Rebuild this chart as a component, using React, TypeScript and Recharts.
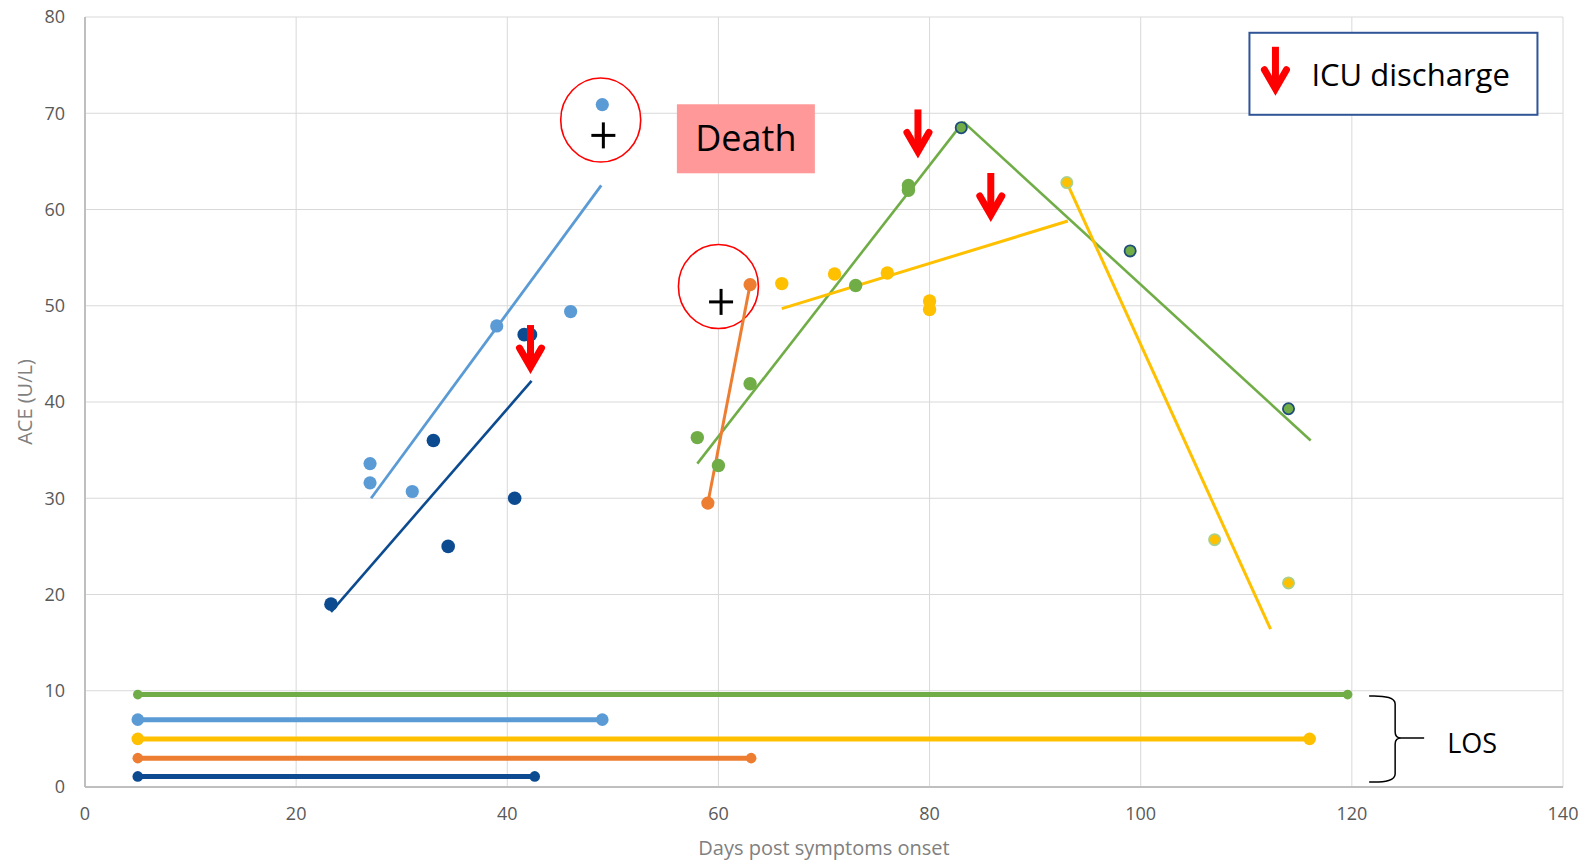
import { ScatterChart, Scatter, XAxis, YAxis, CartesianGrid, ReferenceDot } from 'recharts';

const FONT = "'Open Sans', sans-serif";

// axis ticks
const xTicks = [0, 20, 40, 60, 80, 100, 120, 140];
const yTicks = [0, 10, 20, 30, 40, 50, 60, 70, 80];

// measured ACE values per patient
const lightBluePts = [
    { x: 27, y: 33.6 }, { x: 27, y: 31.6 }, { x: 31, y: 30.7 },
    { x: 39, y: 47.9 }, { x: 46, y: 49.4 }, { x: 49, y: 70.9 },
];
const darkBluePts = [
    { x: 23.3, y: 19 }, { x: 33, y: 36 }, { x: 34.4, y: 25 },
    { x: 40.7, y: 30 }, { x: 41.6, y: 47 }, { x: 42.2, y: 47 },
];
const orangePts = [{ x: 59, y: 29.5 }, { x: 63, y: 52.2 }];
const greenPts = [
    { x: 58, y: 36.3 }, { x: 60, y: 33.4 }, { x: 63, y: 41.9 },
    { x: 73, y: 52.1 }, { x: 78, y: 62.5 }, { x: 78, y: 62 },
];
const greenLatePts = [{ x: 83, y: 68.5 }, { x: 99, y: 55.7 }, { x: 114, y: 39.3 }];
const yellowPts = [
    { x: 66, y: 52.3 }, { x: 71, y: 53.3 }, { x: 76, y: 53.4 },
    { x: 80, y: 50.5 }, { x: 80, y: 49.6 },
];
const yellowLatePts = [{ x: 93, y: 62.8 }, { x: 107, y: 25.7 }, { x: 114, y: 21.2 }];

// trend lines (end points)
const lightBlueTrend = [{ x: 27.1, y: 30 }, { x: 48.9, y: 62.5 }];
const darkBlueTrend = [{ x: 23.3, y: 18.2 }, { x: 42.3, y: 42.2 }];
const greenTrendUp = [{ x: 58, y: 33.6 }, { x: 83.2, y: 69.1 }];
const greenTrendDown = [{ x: 83.2, y: 69.1 }, { x: 116.1, y: 36 }];
const yellowTrendUp = [{ x: 66, y: 49.7 }, { x: 93.1, y: 58.8 }];
const yellowTrendDown = [{ x: 93, y: 62.8 }, { x: 112.3, y: 16.4 }];

// length of stay bars
const losGreen = [{ x: 5, y: 9.6 }, { x: 119.6, y: 9.6 }];
const losLightBlue = [{ x: 5, y: 7 }, { x: 49, y: 7 }];
const losYellow = [{ x: 5, y: 5 }, { x: 116, y: 5 }];
const losOrange = [{ x: 5, y: 3 }, { x: 63.1, y: 3 }];
const losDarkBlue = [{ x: 5, y: 1.1 }, { x: 42.6, y: 1.1 }];

// annotations
const icuArrows = [{ x: 42.2, y: 42.8 }, { x: 78.9, y: 65.2 }, { x: 85.8, y: 58.6 }];
const deathCircles = [{ x: 48.85, y: 69.3 }, { x: 60, y: 52 }];
const deathCrosses = [{ x: 49.1, y: 67.7 }, { x: 60.25, y: 50.4 }];

const C = {
    lightBlue: '#5B9BD5',
    darkBlue: '#0D4B91',
    orange: '#ED7D31',
    green: '#70AD47',
    yellow: '#FFC000',
    navy: '#1F4E79',
    paleGreen: '#A9D18E',
};

const dot = (fill: string, r: number, stroke?: string) => (p: any) => (
    <circle cx={p.cx} cy={p.cy} r={r} fill={fill} stroke={stroke ?? 'none'} strokeWidth={stroke ? 1.8 : 0} />
);
const noDot = () => <g />;

function arrowPath(cx: number, cy: number) {
    return (
        <g>
            <line x1={cx} y1={cy - 50} x2={cx} y2={cy - 10} stroke="#FF0000" strokeWidth={7} />
            <polyline points={`${cx - 11},${cy - 27} ${cx},${cy - 8} ${cx + 11},${cy - 27}`} fill="none"
                stroke="#FF0000" strokeWidth={7} strokeLinecap="round" strokeLinejoin="miter" />
        </g>
    );
}

const Arrow = (p: any) => arrowPath(p.cx, p.cy);

const Ring = (p: any) => (
    <ellipse cx={p.cx} cy={p.cy} rx={40} ry={42} fill="#fff" stroke="#FF0000" strokeWidth={1.6} />
);

const Cross = (p: any) => (
    <g stroke="#000" strokeWidth={3}>
        <line x1={p.cx - 12} y1={p.cy} x2={p.cx + 12} y2={p.cy} />
        <line x1={p.cx} y1={p.cy - 13} x2={p.cx} y2={p.cy + 13} />
    </g>
);

const DeathBox = (p: any) => (
    <g>
        <rect x={p.cx - 69} y={p.cy - 34} width={138} height={69} fill="#FF9999" />
        <text x={p.cx} y={p.cy + 13} textAnchor="middle" fontSize={36} fontFamily={FONT} fill="#000">Death</text>
    </g>
);

const IcuLegend = (p: any) => (
    <g>
        <rect x={p.cx - 144} y={p.cy - 41} width={288} height={82} fill="#fff" stroke="#2F5597" strokeWidth={2} />
        {arrowPath(p.cx - 118, p.cy + 23)}
        <text x={p.cx - 82} y={p.cy + 12} fontSize={31} fontFamily={FONT} fill="#000">ICU discharge</text>
    </g>
);

const LosBrace = (p: any) => (
    <g>
        <path d={`M${p.cx - 26},${p.cy - 42} Q${p.cx},${p.cy - 43} ${p.cx},${p.cy - 34} L${p.cx},${p.cy - 6} Q${p.cx},${p.cy} ${p.cx + 6},${p.cy} L${p.cx + 29},${p.cy} M${p.cx + 6},${p.cy} Q${p.cx},${p.cy} ${p.cx},${p.cy + 6} L${p.cx},${p.cy + 36} Q${p.cx},${p.cy + 45} ${p.cx - 26},${p.cy + 44}`}
            fill="none" stroke="#000" strokeWidth={1.5} />
        <text x={p.cx + 52} y={p.cy + 15} fontSize={27} fontFamily={FONT} fill="#000">LOS</text>
    </g>
);

export default function App() {
    return (
        <div style={{ position: 'absolute', left: 0, top: 0, width: 1584, height: 862, background: '#fff' }}>
            <ScatterChart width={1584} height={862} margin={{ top: 17, right: 21, bottom: 0, left: 0 }}>
                <CartesianGrid stroke="#D9D9D9" strokeWidth={1} />
                <XAxis type="number" dataKey="x" domain={[0, 140]} ticks={xTicks} height={75}
                    tickSize={0} tickMargin={20} axisLine={{ stroke: '#BFBFBF', strokeWidth: 2 }}
                    tick={{ fill: '#595959', fontSize: 18, fontFamily: FONT }}
                    label={{ value: 'Days post symptoms onset', position: 'insideBottom', offset: 7, fill: '#808080', fontSize: 20, fontFamily: FONT }} />
                <YAxis type="number" dataKey="y" domain={[0, 80]} ticks={yTicks} width={85}
                    tickSize={0} tickMargin={20} axisLine={{ stroke: '#BFBFBF', strokeWidth: 2 }}
                    tick={{ fill: '#595959', fontSize: 18, fontFamily: FONT }}
                    label={{ value: 'ACE (U/L)', angle: -90, position: 'insideLeft', offset: 25, fill: '#808080', fontSize: 20, fontFamily: FONT, style: { textAnchor: 'middle' } }} />

                {deathCircles.map((c, i) => (
                    <ReferenceDot key={'ring' + i} x={c.x} y={c.y} shape={Ring} />
                ))}
                <ReferenceDot x={62.6} y={67.4} shape={DeathBox} />

                {/* length of stay */}
                <Scatter data={losGreen} fill={C.green} line={{ stroke: C.green, strokeWidth: 5 }} shape={dot(C.green, 4.8)} isAnimationActive={false} />
                <Scatter data={losLightBlue} fill={C.lightBlue} line={{ stroke: C.lightBlue, strokeWidth: 5 }} shape={dot(C.lightBlue, 6.3)} isAnimationActive={false} />
                <Scatter data={losYellow} fill={C.yellow} line={{ stroke: C.yellow, strokeWidth: 5 }} shape={dot(C.yellow, 6.3)} isAnimationActive={false} />
                <Scatter data={losOrange} fill={C.orange} line={{ stroke: C.orange, strokeWidth: 5 }} shape={dot(C.orange, 5.3)} isAnimationActive={false} />
                <Scatter data={losDarkBlue} fill={C.darkBlue} line={{ stroke: C.darkBlue, strokeWidth: 5 }} shape={dot(C.darkBlue, 5.3)} isAnimationActive={false} />

                {/* trend lines */}
                <Scatter data={lightBlueTrend} fill={C.lightBlue} line={{ stroke: C.lightBlue, strokeWidth: 2.8 }} shape={noDot} isAnimationActive={false} />
                <Scatter data={darkBlueTrend} fill={C.darkBlue} line={{ stroke: C.darkBlue, strokeWidth: 2.6 }} shape={noDot} isAnimationActive={false} />
                <Scatter data={greenTrendUp} fill={C.green} line={{ stroke: C.green, strokeWidth: 2.6 }} shape={noDot} isAnimationActive={false} />
                <Scatter data={greenTrendDown} fill={C.green} line={{ stroke: C.green, strokeWidth: 2.6 }} shape={noDot} isAnimationActive={false} />
                <Scatter data={yellowTrendUp} fill={C.yellow} line={{ stroke: C.yellow, strokeWidth: 3 }} shape={noDot} isAnimationActive={false} />
                <Scatter data={yellowTrendDown} fill={C.yellow} line={{ stroke: C.yellow, strokeWidth: 3 }} shape={noDot} isAnimationActive={false} />

                {/* measurements */}
                <Scatter data={lightBluePts} fill={C.lightBlue} shape={dot(C.lightBlue, 6.6)} isAnimationActive={false} />
                <Scatter data={darkBluePts} fill={C.darkBlue} shape={dot(C.darkBlue, 6.8)} isAnimationActive={false} />
                <Scatter data={orangePts} fill={C.orange} line={{ stroke: C.orange, strokeWidth: 3 }} shape={dot(C.orange, 6.6)} isAnimationActive={false} />
                <Scatter data={greenPts} fill={C.green} shape={dot(C.green, 6.7)} isAnimationActive={false} />
                <Scatter data={greenLatePts} fill={C.green} shape={dot(C.green, 5.6, C.navy)} isAnimationActive={false} />
                <Scatter data={yellowPts} fill={C.yellow} shape={dot(C.yellow, 6.7)} isAnimationActive={false} />
                <Scatter data={yellowLatePts} fill={C.yellow} shape={dot(C.yellow, 5.6, C.paleGreen)} isAnimationActive={false} />

                {deathCrosses.map((c, i) => (
                    <ReferenceDot key={'cross' + i} x={c.x} y={c.y} shape={Cross} />
                ))}
                {icuArrows.map((a, i) => (
                    <ReferenceDot key={'arrow' + i} x={a.x} y={a.y} shape={Arrow} />
                ))}
                <ReferenceDot x={123.94} y={74.1} shape={IcuLegend} />
                <ReferenceDot x={124.1} y={5.09} shape={LosBrace} />
            </ScatterChart>
        </div>
    );
}
